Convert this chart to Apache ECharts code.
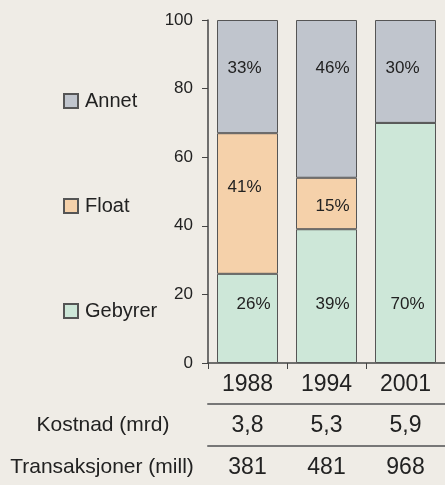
<!DOCTYPE html>
<html>
<head>
<meta charset="utf-8">
<script src="https://cdn.jsdelivr.net/npm/echarts@6/dist/echarts.min.js"></script>
<style>
html,body{margin:0;padding:0;background:#efece6;}
#c{width:445px;height:485px;}
</style>
</head>
<body>
<div id="c"></div>
<script>
// ---- data ----
const years = ['1988', '1994', '2001'];
const gebyrer = [26, 39, 70];
const float_ = [41, 15, 0];
const annet = [33, 46, 30];
const kostnad = [3.8, 5.3, 5.9];
const transaksjoner = [381, 481, 968];
const yTicks = [0, 20, 40, 60, 80, 100];
const rowLabels = ['Kostnad (mrd)', 'Transaksjoner (mill)'];

// ---- styles ----
const FONT = 'Liberation Sans, Arial, sans-serif';
const colors = { annet: '#c0c5cd', float: '#f5d1aa', gebyrer: '#cde7d8' };
const border = '#555';
const annetOffsets = [[-3, 0], [6, 0], [-3, 0]];
const floatOffsets = [[-3, -16], [6, 3], [0, 0]];
const gebyrerOffsets = [[6, 0], [6, 0], [2, 0]];

const fmtComma = v => v.toFixed(1).replace('.', ',');

function mkData(vals, offs) {
  return vals.map((v, i) => ({ value: v, label: { offset: offs[i] } }));
}
const labelBase = {
  show: true, fontFamily: FONT, fontSize: 17, color: '#222',
  formatter: p => (p.value > 0 ? p.value + '%' : '')
};
function mkSeries(name, vals, color, offs, pos, dist) {
  return {
    name: name, type: 'bar', stack: 'tot', barWidth: 61,
    xAxisIndex: 0, yAxisIndex: 0,
    data: mkData(vals, offs),
    itemStyle: { color: color, borderColor: border, borderWidth: 1 },
    label: Object.assign({}, labelBase, { position: pos, distance: dist }),
    emphasis: { disabled: true }
  };
}

const chart = echarts.init(document.getElementById('c'), null, { renderer: 'canvas' });
chart.setOption({
  backgroundColor: '#efece6',
  animation: false,
  grid: { left: 208, right: 0, top: 20, bottom: 122, containLabel: false },
  legend: {
    orient: 'vertical', left: 63, top: 91, itemGap: 85, padding: 0,
    itemWidth: 14, itemHeight: 14, icon: 'rect',
    data: ['Annet', 'Float', 'Gebyrer'],
    textStyle: { fontFamily: FONT, fontSize: 20, color: '#222', padding: [0, 0, 0, 2] },
    selectedMode: false
  },
  xAxis: [
    {
      type: 'category', data: years, position: 'bottom',
      axisLine: { lineStyle: { color: '#444', width: 1.5 } },
      axisTick: { show: true, length: 6, lineStyle: { color: '#444' } },
      axisLabel: { fontFamily: FONT, fontSize: 23, color: '#222', margin: 10 }
    },
    {
      type: 'category', data: kostnad.map(fmtComma), position: 'bottom', offset: 41,
      axisLine: { show: true, lineStyle: { color: '#777', width: 2 } },
      axisTick: { show: false },
      axisLabel: { fontFamily: FONT, fontSize: 23, color: '#222', margin: 10 }
    },
    {
      type: 'category', data: transaksjoner.map(String), position: 'bottom', offset: 83,
      axisLine: { show: true, lineStyle: { color: '#777', width: 2 } },
      axisTick: { show: false },
      axisLabel: { fontFamily: FONT, fontSize: 23, color: '#222', margin: 10 }
    }
  ],
  yAxis: {
    type: 'value', min: yTicks[0], max: yTicks[yTicks.length - 1], interval: 20,
    axisLine: { show: true, lineStyle: { color: '#444', width: 1.5 } },
    axisTick: { show: true, length: 6, lineStyle: { color: '#444' } },
    splitLine: { show: false },
    axisLabel: { fontFamily: FONT, fontSize: 17, color: '#222', margin: 15 }
  },
  graphic: [
    { type: 'text', x: 103, y: 425,
      style: { text: rowLabels[0], font: '21px ' + FONT, fill: '#222', align: 'center', verticalAlign: 'middle' } },
    { type: 'text', x: 102, y: 467,
      style: { text: rowLabels[1], font: '21px ' + FONT, fill: '#222', align: 'center', verticalAlign: 'middle' } }
  ],
  series: [
    mkSeries('Gebyrer', gebyrer, colors.gebyrer, gebyrerOffsets, 'insideBottom', 50),
    mkSeries('Float', float_, colors.float, floatOffsets, 'inside', 0),
    mkSeries('Annet', annet, colors.annet, annetOffsets, 'insideTop', 40)
  ]
});
</script>
</body>
</html>
